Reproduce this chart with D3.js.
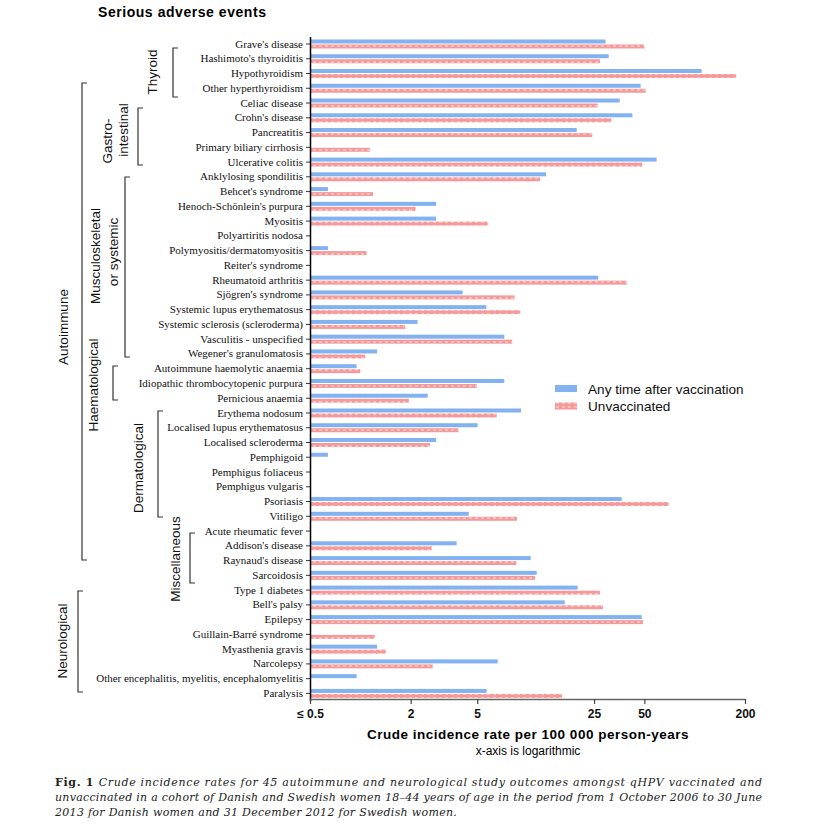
<!DOCTYPE html>
<html>
<head>
<meta charset="utf-8">
<script src="https://cdn.jsdelivr.net/npm/d3@7"></script>
<style>
  body { margin: 0; background: #fff; }
  svg { display: block; }
</style>
</head>
<body>
<script>
// outcomes, top to bottom
const outcomes = [
  "Grave's disease", "Hashimoto's thyroiditis", "Hypothyroidism", "Other hyperthyroidism",
  "Celiac disease", "Crohn's disease", "Pancreatitis", "Primary biliary cirrhosis", "Ulcerative colitis",
  "Anklylosing spondilitis", "Behcet's syndrome", "Henoch-Schönlein's purpura", "Myositis",
  "Polyartiritis nodosa", "Polymyositis/dermatomyositis", "Reiter's syndrome", "Rheumatoid arthritis",
  "Sjögren's syndrome", "Systemic lupus erythematosus", "Systemic sclerosis (scleroderma)",
  "Vasculitis - unspecified", "Wegener's granulomatosis",
  "Autoimmune haemolytic anaemia", "Idiopathic thrombocytopenic purpura", "Pernicious anaemia",
  "Erythema nodosum", "Localised lupus erythematosus", "Localised scleroderma", "Pemphigoid",
  "Pemphigus foliaceus", "Pemphigus vulgaris", "Psoriasis", "Vitiligo",
  "Acute rheumatic fever", "Addison's disease", "Raynaud's disease", "Sarcoidosis", "Type 1 diabetes",
  "Bell's palsy", "Epilepsy", "Guillain-Barré syndrome", "Myasthenia gravis", "Narcolepsy",
  "Other encephalitis, myelitis, encephalomyelitis", "Paralysis"
];

// crude incidence per 100 000 person-years (null = no cases)
const vaccinated = [
  29.3, 30.6, 110, 47.5,
  35.6, 42.4, 19.7, null, 59.2,
  12.9, 0.64, 2.84, 2.84, null, 0.64, null, 26.5, 4.09, 5.67, 2.2, 7.26, 1.26,
  0.95, 7.26, 2.53,
  9.14, 5.03, 2.84, 0.64, null, null, 36.6, 4.45,
  null, 3.77, 10.45, 11.35, 19.95,
  16.7, 48.2, null, 1.26, 6.63, 0.95, 5.7
];
const unvaccinated = [
  50, 27.1, 177, 51,
  26.3, 31.7, 24.4, 1.14, 48.6,
  11.9, 1.19, 2.14, 5.78, null, 1.09, null, 39.2, 8.38, 9.06, 1.86, 8.11, 1.07,
  1.0, 4.97, 1.95,
  6.54, 3.87, 2.61, null, null, null, 69.8, 8.65,
  null, 2.67, 8.57, 11.1, 27.1,
  28.3, 49, 1.22, 1.42, 2.71, null, 16.1
];

const xTicks = [0.5, 2, 5, 25, 50, 200];
const seriesNames = ["Any time after vaccination", "Unvaccinated"];

// group brackets (annotation layout)
const groups = [
  { lines: ["Thyroid"], lx: [152], ly: [72], bx: 173, y0: 48, y1: 97 },
  { lines: ["Gastro-", "intestinal"], lx: [107, 123], ly: [141, 130], bx: 138, y0: 108, y1: 165 },
  { lines: ["Musculoskeletal", "or systemic"], lx: [95, 113], ly: [256, 252], bx: 125, y0: 177, y1: 357 },
  { lines: ["Autoimmune"], lx: [63], ly: [327], bx: 82, y0: 83, y1: 560 },
  { lines: ["Haematological"], lx: [93], ly: [385], bx: 113, y0: 366, y1: 400 },
  { lines: ["Dermatological"], lx: [138], ly: [468], bx: 158, y0: 411, y1: 517 },
  { lines: ["Miscellaneous"], lx: [175], ly: [559], bx: 190, y0: 533, y1: 583 },
  { lines: ["Neurological"], lx: [62], ly: [641], bx: 78, y0: 591, y1: 692 }
];

const width = 821, height = 834;
const BLUE = "#82b2f0", RED = "#f49a9a";

const svg = d3.select("body").append("svg")
  .attr("width", width)
  .attr("height", height);

// pattern for unvaccinated bars
const pat = svg.append("defs").append("pattern")
  .attr("id", "redpat")
  .attr("patternUnits", "userSpaceOnUse")
  .attr("width", 6).attr("height", 4);
pat.append("rect").attr("width", 6).attr("height", 4).attr("fill", RED);
pat.append("rect").attr("x", 1).attr("y", 1).attr("width", 3).attr("height", 2).attr("fill", "#f8bcbc");

const x = d3.scaleLog().domain([0.5, 200]).range([310, 745]);
const y = d3.scaleBand().domain(outcomes).range([36.6, 700.8]);

// title
svg.append("text")
  .attr("x", 98).attr("y", 17)
  .style("font-family", "Liberation Sans, Arial, sans-serif")
  .style("font-weight", "bold")
  .style("font-size", "14px")
  .style("letter-spacing", "0.55px")
  .text("Serious adverse events");

// bars
const rows = outcomes.map((o, i) => ({ name: o, v: vaccinated[i], u: unvaccinated[i] }));

svg.append("g").selectAll("rect")
  .data(rows.filter(d => d.v != null))
  .enter().append("rect")
  .attr("x", x(0.5))
  .attr("y", d => y(d.name) + y.bandwidth() / 2 - 4.5)
  .attr("width", d => x(d.v) - x(0.5))
  .attr("height", 4)
  .attr("fill", BLUE);

svg.append("g").selectAll("rect")
  .data(rows.filter(d => d.u != null))
  .enter().append("rect")
  .attr("x", x(0.5))
  .attr("y", d => y(d.name) + y.bandwidth() / 2 + 0.5)
  .attr("width", d => x(d.u) - x(0.5))
  .attr("height", 4)
  .attr("fill", "url(#redpat)");

// y axis
const yAxis = svg.append("g")
  .attr("transform", "translate(310,0)")
  .call(d3.axisLeft(y).tickSize(4).tickSizeOuter(0).tickPadding(3));
yAxis.select(".domain").attr("stroke", "#000").attr("stroke-width", 1.5);
yAxis.selectAll(".tick line").attr("stroke", "#333");
yAxis.selectAll("text")
  .style("font-family", "Liberation Serif, Times New Roman, serif")
  .style("font-size", "11px")
  .attr("fill", "#111");

// x axis
const xAxis = svg.append("g")
  .attr("transform", "translate(0,699)")
  .call(d3.axisBottom(x).tickValues(xTicks).tickSize(5).tickSizeOuter(0).tickPadding(5)
    .tickFormat(d => d === 0.5 ? "≤ 0.5" : d3.format("d")(d)));
xAxis.select(".domain").attr("stroke", "#666").attr("stroke-width", 1.6);
xAxis.selectAll(".tick line").attr("stroke", "#444").attr("stroke-width", 1.2);
xAxis.selectAll("text")
  .style("font-family", "Liberation Sans, Arial, sans-serif")
  .style("font-weight", "bold")
  .style("font-size", "12px")
  .attr("fill", "#111");

svg.append("text")
  .attr("x", 528).attr("y", 739)
  .attr("text-anchor", "middle")
  .style("font-family", "Liberation Sans, Arial, sans-serif")
  .style("font-weight", "bold")
  .style("font-size", "13.5px")
  .style("letter-spacing", "0.5px")
  .text("Crude incidence rate per 100 000 person-years");

svg.append("text")
  .attr("x", 528).attr("y", 755)
  .attr("text-anchor", "middle")
  .style("font-family", "Liberation Sans, Arial, sans-serif")
  .style("font-size", "12px")
  .text("x-axis is logarithmic");

// group brackets
const gb = svg.append("g");
groups.forEach(g => {
  gb.append("path")
    .attr("d", `M${g.bx + 5},${g.y0}H${g.bx}V${g.y1}H${g.bx + 5}`)
    .attr("fill", "none")
    .attr("stroke", "#333")
    .attr("stroke-width", 1.2);
  g.lines.forEach((t, i) => {
    gb.append("text")
      .attr("transform", `translate(${g.lx[i]},${g.ly[i]}) rotate(-90)`)
      .attr("text-anchor", "middle")
      .attr("dy", "0.36em")
      .style("font-family", "Liberation Sans, Arial, sans-serif")
      .style("font-size", "13.5px")
      .attr("fill", "#111")
      .text(t);
  });
});

// legend
const legend = svg.append("g").attr("transform", "translate(555,385)");
legend.selectAll("rect")
  .data(seriesNames)
  .enter().append("rect")
  .attr("x", 0)
  .attr("y", (d, i) => i * 17.5)
  .attr("width", 22).attr("height", 7)
  .attr("fill", (d, i) => i === 0 ? BLUE : "url(#redpat)");
legend.selectAll("text")
  .data(seriesNames)
  .enter().append("text")
  .attr("x", 33)
  .attr("y", (d, i) => i * 17.5 + 8.5)
  .style("font-family", "Liberation Sans, Arial, sans-serif")
  .style("font-size", "13.6px")
  .attr("fill", "#111")
  .text(d => d);

// caption
const cap = svg.append("g")
  .style("font-family", "DejaVu Serif, serif")
  .style("font-size", "11px")
  .attr("fill", "#222");

const l1 = cap.append("text").attr("x", 55).attr("y", 786)
  .attr("textLength", 707).attr("lengthAdjust", "spacing");
l1.append("tspan").style("font-weight", "bold").text("Fig. 1 ");
l1.append("tspan").style("font-style", "italic")
  .text("Crude incidence rates for 45 autoimmune and neurological study outcomes amongst qHPV vaccinated and");

cap.append("text").attr("x", 55).attr("y", 801)
  .attr("textLength", 707).attr("lengthAdjust", "spacing")
  .style("font-style", "italic")
  .text("unvaccinated in a cohort of Danish and Swedish women 18–44 years of age in the period from 1 October 2006 to 30 June");

cap.append("text").attr("x", 55).attr("y", 816)
  .style("font-style", "italic")
  .style("letter-spacing", "0.3px")
  .text("2013 for Danish women and 31 December 2012 for Swedish women.");
</script>
</body>
</html>
